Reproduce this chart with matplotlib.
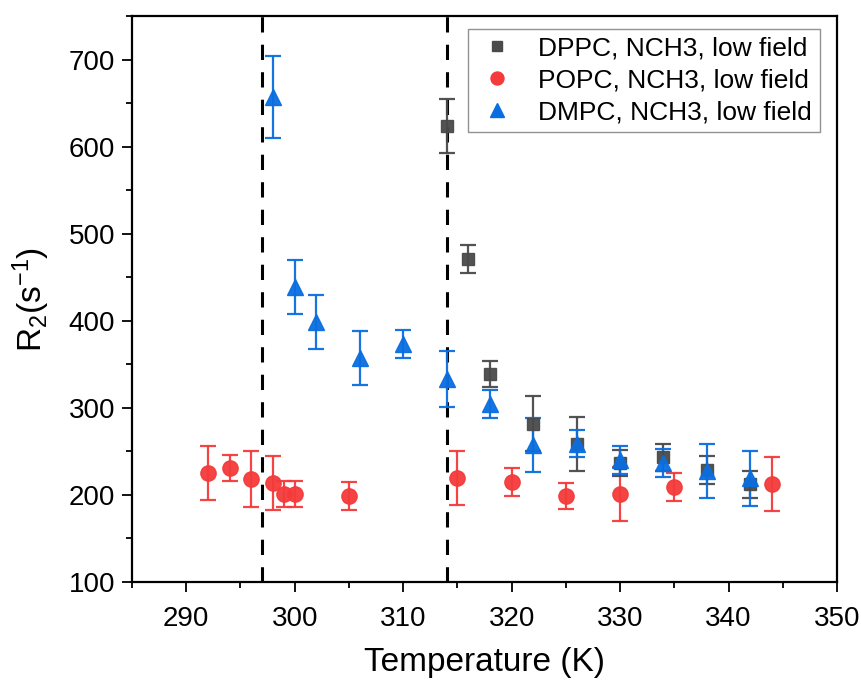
import matplotlib
matplotlib.use("Agg")
import matplotlib.pyplot as plt
from matplotlib.ticker import MultipleLocator

plt.rcParams['font.family'] = ['Liberation Sans', 'DejaVu Sans']
plt.rcParams['mathtext.default'] = 'regular'

# DPPC, NCH3, low field
dppc_t = [314, 316, 318, 322, 326, 330, 334, 338, 342]
dppc_r = [624, 471, 339, 282, 259, 237, 243, 229, 212]
dppc_e = [31, 16, 15, 32, 31, 15, 16, 16, 15]

# POPC, NCH3, low field
popc_t = [292, 294, 296, 298, 299, 300, 305, 315, 320, 325, 330, 335, 344]
popc_r = [225, 231, 218, 214, 201, 201, 199, 219, 215, 199, 201, 209, 212]
popc_e = [31, 15, 32, 31, 15, 15, 16, 31, 16, 15, 31, 16, 31]

# DMPC, NCH3, low field
dmpc_t = [298, 300, 302, 306, 310, 314, 318, 322, 326, 330, 334, 338, 342]
dmpc_r = [657, 439, 399, 357, 373, 333, 304, 257, 259, 240, 237, 228, 219]
dmpc_e = [47, 31, 31, 31, 16, 32, 16, 31, 16, 16, 16, 31, 32]

transitions = [297, 314]

c_gray = '#4a4a4a'
c_red = '#f43a3a'
c_blue = '#0a6ee0'

fig = plt.figure(figsize=(8.62, 6.84), dpi=100)
ax = fig.add_axes([132/862, 102/684, 705/862, 566/684])

for xv in transitions:
    ax.axvline(xv, color='black', lw=2.2, linestyle=(0, (5, 4)), zorder=1)

series = [
    (popc_t, popc_r, popc_e, c_red, 'o', 11, 'POPC, NCH3, low field'),
    (dppc_t, dppc_r, dppc_e, c_gray, 's', 9, 'DPPC, NCH3, low field'),
    (dmpc_t, dmpc_r, dmpc_e, c_blue, '^', 12, 'DMPC, NCH3, low field'),
]
handles = {}
for t, r, e, c, m, ms, lab in series:
    ax.errorbar(t, r, yerr=e, fmt=m, color=c, ms=ms, ecolor=c, elinewidth=1.6,
                capsize=6, capthick=1.6, alpha=0.95, zorder=3)
    handles[lab] = ax.plot([], [], m, color=c, ms=ms * 0.85, linestyle='none', label=lab)[0]

order = ['DPPC, NCH3, low field', 'POPC, NCH3, low field', 'DMPC, NCH3, low field']
leg = ax.legend([handles[k] for k in order], order, loc='upper right',
                bbox_to_anchor=(0.983, 0.987), fontsize=19, frameon=True,
                fancybox=False, edgecolor='#777777', handletextpad=0.75,
                labelspacing=0.3, borderpad=0.3, handlelength=1.6,
                borderaxespad=0.2)
leg.get_frame().set_linewidth(1.0)

ax.set_xlim(285, 350)
ax.set_ylim(100, 750)
ax.xaxis.set_major_locator(MultipleLocator(10))
ax.xaxis.set_minor_locator(MultipleLocator(5))
ax.yaxis.set_major_locator(MultipleLocator(100))
ax.yaxis.set_minor_locator(MultipleLocator(50))
ax.set_yticks([100, 200, 300, 400, 500, 600, 700])

ax.tick_params(axis='both', which='major', direction='out', length=7, width=1.3,
               labelsize=20, top=False, right=False)
ax.tick_params(axis='both', which='minor', direction='out', length=4, width=1.3,
               top=False, right=False)
ax.tick_params(axis='x', which='major', pad=10)
ax.tick_params(axis='y', which='major', pad=5)

for s in ax.spines.values():
    s.set_linewidth(1.6)

ax.set_xlabel('Temperature (K)', fontsize=24, labelpad=11)
ax.set_ylabel('R$_2$(s$^{-1}$)', fontsize=24, labelpad=12)

fig.savefig('out.png', dpi=100)
